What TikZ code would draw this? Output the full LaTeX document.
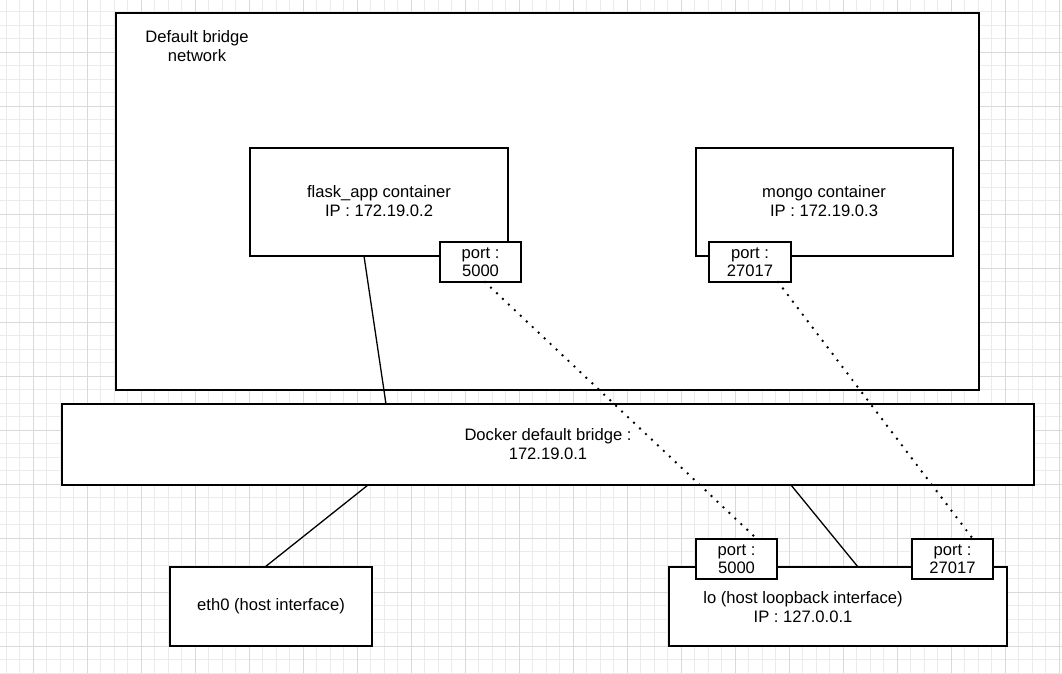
\documentclass[tikz,border=0pt]{standalone}
\usepackage{fontspec}
\setmainfont{Liberation Sans}
\begin{document}
\begin{tikzpicture}[x=1pt,y=-1pt,
  box/.style={draw=black,line width=1.3pt,fill=white,inner sep=0pt,outer sep=0pt},
  lbl/.style={font=\fontsize{16.6}{20.5}\selectfont,align=center,text=black},
  conn/.style={draw=black,line width=1.3pt},
  dots/.style={draw=black,line width=2.7pt,line cap=round,dash pattern=on 0pt off 8.2pt}]
\useasboundingbox (0,0) rectangle (1062,673);
\fill[white] (0,0) rectangle (1062,673);
% grid
\foreach \i in {0,...,79} {
  \draw[color=black!8,line width=0.9pt] ({6+13.5*\i},0) -- ({6+13.5*\i},673);
}
\foreach \i in {0,...,50} {
  \draw[color=black!8,line width=0.9pt] (0,{11.5+13.5*\i}) -- (1062,{11.5+13.5*\i});
}
\foreach \i in {0,...,19} {
  \draw[color=black!15,line width=0.9pt] ({33+54*\i},0) -- ({33+54*\i},673);
}
\foreach \i in {0,...,12} {
  \draw[color=black!15,line width=0.9pt] (0,{52+54*\i}) -- (1062,{52+54*\i});
}
% boxes
\node[box,minimum width=863pt,minimum height=377pt,anchor=north west] (net) at (116,13) {};
\node[lbl] (netlbl) at (197,46) {Default bridge\\[-2pt]network};

\node[box,minimum width=258pt,minimum height=108pt,anchor=north west] (flask) at (250,148) {};
\node[lbl] (flasklbl) at (379,201) {flask\_app container\\[-2pt]IP : 172.19.0.2};
\node[box,minimum width=81pt,minimum height=40pt,anchor=north west,lbl] (fport) at (440,242) {port :\\[-2pt]5000};

\node[box,minimum width=257pt,minimum height=108pt,anchor=north west] (mongo) at (696,148) {};
\node[lbl] (mongolbl) at (824,201) {mongo container\\[-2pt]IP : 172.19.0.3};
\node[box,minimum width=82pt,minimum height=40pt,anchor=north west,lbl] (mport) at (709,242) {port :\\[-2pt]27017};

\node[box,minimum width=972pt,minimum height=81pt,anchor=north west] (bridge) at (62,404) {};
\node[lbl] (bridgelbl) at (548,444) {Docker default bridge :\\[-2pt]172.19.0.1};

\node[box,minimum width=202pt,minimum height=79pt,anchor=north west,lbl] (eth) at (170,567) {eth0 (host interface)};

\node[box,minimum width=338pt,minimum height=79pt,anchor=north west] (lo) at (669,567) {};
\node[lbl] (lolbl) at (803,607) {lo (host loopback interface)\\[-2pt]IP : 127.0.0.1};
\node[box,minimum width=81pt,minimum height=40pt,anchor=north west,lbl] (lport) at (696,539) {port :\\[-2pt]5000};
\node[box,minimum width=81pt,minimum height=40pt,anchor=north west,lbl] (lmport) at (912,539) {port :\\[-2pt]27017};

% connectors
\draw[conn] (flask.south -| 364,0) -- (bridge.north -| 386,0);
\draw[conn] (bridge.south -| 368,0) -- (eth.north -| 265,0);
\draw[conn] (bridge.south -| 791,0) -- (lo.north -| 858,0);
\draw[dots] (fport.south -| 485,0) -- (lport.north -| 757,0);
\draw[dots] (mport.south -| 778,0) -- (lmport.north -| 973,0);
\end{tikzpicture}
\end{document}
